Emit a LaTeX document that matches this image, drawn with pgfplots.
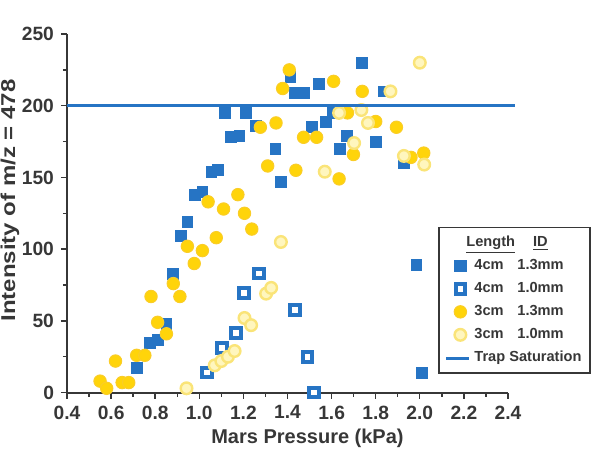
\documentclass[border=0pt]{standalone}
\usepackage{pgfplots}
\pgfplotsset{compat=1.18}
\usepackage{fontspec}
\setmainfont{Liberation Sans}
\definecolor{myblue}{RGB}{38,116,196}
\definecolor{txt}{RGB}{55,55,55}
\definecolor{yfill}{RGB}{255,212,10}
\definecolor{yedge}{RGB}{250,205,40}
\definecolor{ypale}{RGB}{255,246,190}
\definecolor{ypaleedge}{RGB}{250,228,120}
\pgfplotsset{trapleg/.style={legend image code/.code={\draw[##1] (0.05cm,0cm) -- (0.45cm,0cm);}}}
\begin{document}
\begin{tikzpicture}
\useasboundingbox (-33.5pt,-29.65pt) rectangle (266.5pt,196.3pt);
\begin{axis}[
  at={(0pt,0pt)}, anchor=south west,
  scale only axis, width=220.5pt, height=179.3pt,
  xmin=0.4, xmax=2.4, ymin=0, ymax=250,
  axis x line*=bottom, axis y line*=left,
  axis line style={txt, line width=0.9pt},
  xtick={0.4,0.6,...,2.4}, ytick={0,50,...,250},
  minor x tick num=1, minor y tick num=1,
  tick align=outside, major tick length=3pt, minor tick length=2pt,
  tick style={txt, line width=0.7pt},
  x tick label style={/pgf/number format/.cd, fixed, fixed zerofill, precision=1},
  /pgf/number format/assume math mode=true,
  tick label style={font=\fontsize{9.6}{11}\selectfont\bfseries, text=txt},
  label style={font=\fontsize{10}{12}\selectfont\bfseries, text=txt},
  xlabel={Mars Pressure (kPa)},
  ylabel={Intensity of m/z = 478},
  xlabel style={yshift=2pt, xshift=10pt},
  ylabel style={at={(rel axis cs:0,0.536)}, anchor=center, yshift=28.5pt, xscale=1.2},
  clip mode=individual,
  legend style={at={(0.8413,0.463)}, anchor=north west, draw=txt, line width=0.9pt,
    fill=white, font=\fontsize{7.3}{8.5}\selectfont\bfseries, text=txt,
    row sep=0.9pt, inner sep=2.2pt},
  legend cell align=left,
]
\addlegendimage{empty legend}
\addlegendentry{\hspace*{-4pt}\underline{Length}\hspace{9pt}\underline{ID}}
\addplot[only marks, mark=square*, mark size=2.7pt, mark options={fill=myblue, draw=myblue}]
coordinates {
(0.716,17) (0.776,34.5) (0.811,37) (0.851,48) (0.882,83) (0.916,109) (0.946,119)
(0.979,138) (1.014,140) (1.055,154) (1.085,155) (1.115,195) (1.145,178) (1.182,179)
(1.213,195) (1.258,186) (1.345,170) (1.370,147) (1.413,220) (1.435,209) (1.475,209)
(1.509,185) (1.544,215) (1.574,189) (1.604,195) (1.638,170) (1.669,179) (1.739,230)
(1.800,175) (1.837,210) (1.927,160) (1.985,89) (2.010,14)
};
\addlegendentry{\makebox[21.5pt][l]{4cm}1.3mm}
\addplot[only marks, mark=square*, mark size=2.4pt, mark options={fill=white, draw=myblue, line width=2pt}]
coordinates {
(1.035,14) (1.103,31) (1.167,41.5) (1.202,69.5) (1.270,83) (1.434,57.5) (1.491,25) (1.521,0)
};
\addlegendentry{\makebox[21.5pt][l]{4cm}1.0mm}
\addplot[only marks, mark=*, mark size=3.1pt, mark options={fill=yfill, draw=yedge, line width=0.5pt}]
coordinates {
(0.55,8) (0.58,3) (0.62,22) (0.65,7) (0.68,7) (0.716,26) (0.753,26) (0.781,67)
(0.811,49) (0.851,41) (0.882,76) (0.912,67) (0.946,102) (0.977,90) (1.014,99)
(1.04,133) (1.077,108) (1.11,128) (1.175,138) (1.205,125) (1.238,114) (1.277,185)
(1.31,158) (1.348,188) (1.378,212) (1.408,225) (1.438,155) (1.473,178) (1.532,178)
(1.609,217) (1.634,149) (1.672,195) (1.699,166) (1.739,210) (1.80,189) (1.894,185)
(1.96,164) (2.018,167)
};
\addlegendentry{\makebox[21.5pt][l]{3cm}1.3mm}
\addplot[only marks, mark=*, mark size=2.9pt, mark options={fill=ypale, draw=ypaleedge, line width=1.2pt}]
coordinates {
(0.942,3) (1.07,19) (1.10,22) (1.13,25) (1.16,29) (1.205,52) (1.235,47) (1.303,69)
(1.326,73) (1.37,105) (1.569,154) (1.634,195) (1.702,174) (1.735,197) (1.765,188)
(1.867,210) (1.928,165) (2.0,230) (2.02,159)
};
\addlegendentry{\makebox[21.5pt][l]{3cm}1.0mm}
\addplot[myblue, line width=1.5pt, clip=false, trapleg]
coordinates {(0.4,200) (2.43,200)};
\addlegendentry{Trap Saturation}
\end{axis}
\end{tikzpicture}
\end{document}
